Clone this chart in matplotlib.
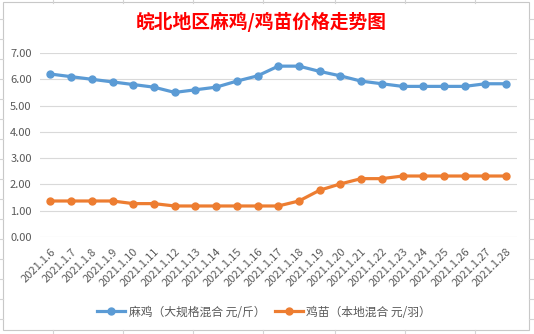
import matplotlib
matplotlib.use("Agg")
import matplotlib.pyplot as plt
from matplotlib.patches import Rectangle
from matplotlib.lines import Line2D

plt.rcParams['font.family'] = ['Noto Sans CJK SC', 'DejaVu Sans']

dates = ['2021.1.%d' % d for d in range(6, 29)]
maji = [6.2, 6.1, 6.0, 5.9, 5.8, 5.7, 5.5, 5.6, 5.7, 5.93, 6.13, 6.5,
        6.5, 6.3, 6.13, 5.93, 5.83, 5.73, 5.73, 5.73, 5.73, 5.83, 5.83]
jimiao = [1.37, 1.37, 1.37, 1.37, 1.27, 1.27, 1.18, 1.18, 1.18, 1.18, 1.18, 1.18,
          1.37, 1.78, 2.02, 2.22, 2.22, 2.32, 2.32, 2.32, 2.32, 2.32, 2.32]
yticks = [0, 1, 2, 3, 4, 5, 6, 7]

W, H = 534, 334
fig = plt.figure(figsize=(W / 100, H / 100), dpi=100)

def px(x0, y0, x1, y1):
    return [x0 / W, 1 - y1 / H, (x1 - x0) / W, (y1 - y0) / H]

# spreadsheet cell lines behind the chart
bg = fig.add_axes([0, 0, 1, 1])
bg.set_xlim(0, W)
bg.set_ylim(H, 0)
bg.axis('off')
for x in [53, 123, 193, 263, 335, 405, 475]:
    bg.plot([x, x], [0, 3], color='#d4d4d4', lw=0.8)
    bg.plot([x, x], [330, 334], color='#d4d4d4', lw=0.8)
for y in [19, 39, 59, 79, 99, 119, 139, 159, 179, 199, 219, 239, 259, 279, 299, 319]:
    bg.plot([0, 3], [y, y], color='#d4d4d4', lw=0.8)
    bg.plot([529, 534], [y, y], color='#d4d4d4', lw=0.8)
bg.add_patch(Rectangle((3, 2), 526, 328, facecolor='white', edgecolor='#c8c8c8', lw=0.8))

fig.text(261 / W, 1 - 22 / H, '皖北地区麻鸡/鸡苗价格走势图', color='#ff0000',
         fontsize=13.5, fontweight='bold', ha='center', va='center')

ax = fig.add_axes(px(40, 53, 516.5, 237))
x = list(range(len(dates)))
ax.plot(x, maji, color='#5b9bd5', lw=2.3, marker='o', ms=5, zorder=3)
ax.plot(x, jimiao, color='#ed7d31', lw=2.3, marker='o', ms=5, zorder=3)

ax.set_xlim(-0.5, len(dates) - 0.5)
ax.set_ylim(0, 7)
ax.set_yticks(yticks)
ax.set_yticklabels(['%.2f' % v for v in yticks], fontsize=8, color='#595959')
ax.set_xticks(x)
ax.set_xticklabels(dates, rotation=45, ha='right', rotation_mode='anchor',
                   fontsize=8, color='#595959')
ax.tick_params(axis='y', length=0, pad=6)
ax.tick_params(axis='x', length=0, pad=7)
ax.grid(axis='y', color='#d9d9d9', lw=0.8)
ax.set_axisbelow(True)
for s in ax.spines.values():
    s.set_visible(False)

handles = [Line2D([], [], color='#5b9bd5', lw=2.3, marker='o', ms=5),
           Line2D([], [], color='#ed7d31', lw=2.3, marker='o', ms=5)]
fig.legend(handles, ['麻鸡（大规格混合 元/斤）', '鸡苗（本地混合 元/羽）'],
           loc='center', bbox_to_anchor=(264 / W, 1 - 312 / H), ncol=2,
           frameon=False, fontsize=8.5, labelcolor='#595959',
           handlelength=2.4, handletextpad=0.3, columnspacing=0.8)

fig.savefig('out.png', dpi=100)
